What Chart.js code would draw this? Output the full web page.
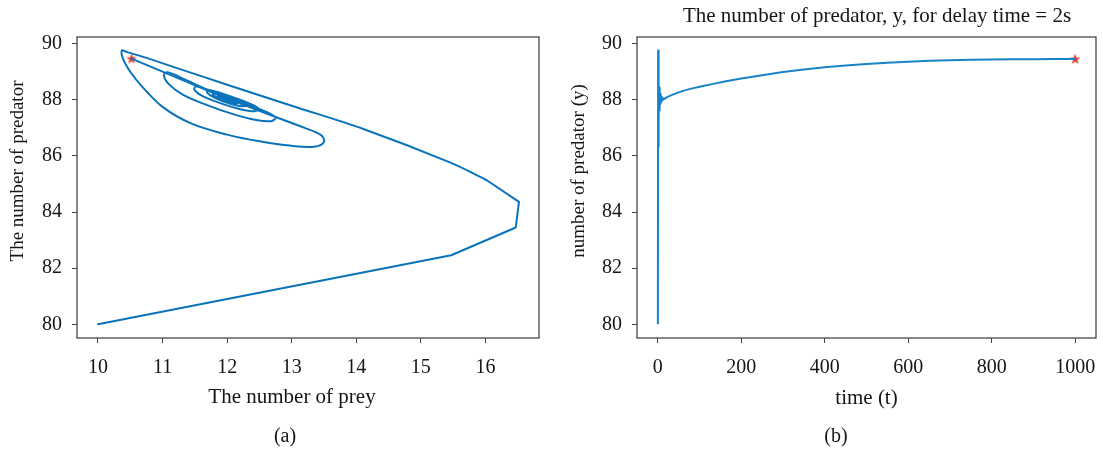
<!DOCTYPE html>
<html>
<head>
<meta charset="utf-8">
<script src="https://cdn.jsdelivr.net/npm/chart.js@4.4.1/dist/chart.umd.min.js"></script>
<style>
  html, body { margin: 0; padding: 0; background: #ffffff; overflow: hidden; }
  #wrap { position: relative; width: 1103px; height: 449px; }
  canvas { position: absolute; top: 0; }
</style>
</head>
<body>
<div id="wrap">
  <canvas id="chartA" width="551" height="449" style="left:0px"></canvas>
  <canvas id="chartB" width="552" height="449" style="left:551px"></canvas>
</div>
<script>
// ---------------- data: panel (a) phase portrait ----------------
const approachPrey      = [10.00, 15.47, 16.47, 16.52, 16.01];
const approachPredator  = [80.00, 82.46, 83.45, 84.36, 85.15];

const spiralPrey = [16.01, 15.45, 14.11, 13.00, 12.00, 11.20, 10.70, 10.45, 10.37, 10.39, 10.50, 10.68, 11.00, 11.45, 12.00, 12.50, 13.00, 13.35, 13.50, 13.45, 13.20,
  12.60, 11.90, 11.35, 11.08, 11.02, 11.10, 11.32, 11.68, 12.08, 12.45, 12.68, 12.75, 12.58,
  12.18, 11.78, 11.53, 11.49, 11.60, 11.86, 12.18, 12.43, 12.48, 12.27,
  11.94, 11.71, 11.69, 11.81, 12.05, 12.28, 12.27, 12.03, 11.80, 11.78, 11.92, 12.14, 12.18, 12.01, 11.86, 11.89, 12.04, 12.10, 12.02,
  11.90, 11.88, 12.00, 12.12, 12.08, 11.95, 11.95, 12.05, 12.03];
const spiralPredator = [85.15, 85.77, 86.96, 87.79, 88.54, 89.15, 89.53, 89.70, 89.76, 89.45, 89.00, 88.48, 87.75, 87.15, 86.76, 86.52, 86.36, 86.33, 86.50, 86.75, 87.00,
  87.52, 88.15, 88.72, 88.98, 88.88, 88.55, 88.18, 87.82, 87.50, 87.28, 87.24, 87.37, 87.60,
  87.96, 88.30, 88.48, 88.38, 88.16, 87.91, 87.68, 87.59, 87.70, 87.94,
  88.21, 88.35, 88.26, 88.07, 87.86, 87.77, 87.88, 88.11, 88.27, 88.18, 88.02, 87.88, 87.93, 88.10, 88.17, 88.08, 87.97, 87.95, 88.03,
  88.12, 88.07, 87.97, 87.93, 87.99, 88.08, 88.03, 87.98, 88.01];

const driftPrey     = [12.03, 10.52];
const driftPredator = [88.01, 89.47];

const endPrey     = [10.52];
const endPredator = [89.47];

const preyTicks      = [10, 11, 12, 13, 14, 15, 16];
const predatorTicks  = [80, 82, 84, 86, 88, 90];

// ---------------- data: panel (b) time series ----------------
const timeValues = [0, 0.6, 1.2, 1.8, 2.4, 3.0, 3.6, 4.2, 4.8, 5.4, 6.0, 6.6, 7.2, 7.8, 8.4, 9.0, 9.6, 10.2, 10.8, 11.4, 12, 13, 14, 15.5, 17, 21,
  30, 45, 60, 80, 100, 130, 160, 200, 250, 300, 350, 400, 450, 500, 550, 600, 650, 700, 750, 800, 850, 900, 950, 1000];
const predatorValues = [80.00, 89.76, 86.33, 88.97, 87.27, 88.45, 87.62, 88.30, 87.78, 88.22, 87.86, 88.16, 87.90, 88.12, 87.94, 88.09, 87.97, 88.07, 87.99, 88.05, 88.00, 88.03, 88.02, 88.04, 88.05, 88.09,
  88.15, 88.24, 88.32, 88.40, 88.47, 88.56, 88.65, 88.76, 88.88, 88.99, 89.08, 89.16, 89.22, 89.28, 89.32, 89.36, 89.39, 89.41, 89.43, 89.44, 89.45, 89.45, 89.46, 89.46];
const endTime      = [1000];
const endPredatorB = [89.46];
const timeTicks    = [0, 200, 400, 600, 800, 1000];

// ---------------- helpers ----------------
const zip = (xs, ys) => xs.map((x, i) => ({ x: x, y: ys[i] }));
const SERIF = "'Liberation Serif', 'DejaVu Serif', serif";
const TEXT = '#151515';
const BLUE_A = '#0a74bb';
const BLUE_B = '#1784c8';

const starImg = (() => {
  const c = document.createElement('canvas');
  c.width = 12; c.height = 12;
  const g = c.getContext('2d');
  g.fillStyle = '#e8402f';
  g.beginPath();
  for (let i = 0; i < 10; i++) {
    const r = i % 2 === 0 ? 5.6 : 2.3;
    const a = -Math.PI / 2 + i * Math.PI / 5;
    const px = 6 + r * Math.cos(a), py = 6.4 + r * Math.sin(a);
    if (i === 0) g.moveTo(px, py); else g.lineTo(px, py);
  }
  g.closePath();
  g.fill();
  return c;
})();

const framePlugin = {
  id: 'frame',
  afterDraw(chart) {
    const { ctx, chartArea: a } = chart;
    ctx.save();
    ctx.strokeStyle = '#3a3a3a';
    ctx.lineWidth = 1.2;
    ctx.strokeRect(a.left, a.top, a.right - a.left, a.bottom - a.top);
    ctx.restore();
  }
};

// draws the figure texts (titles, captions) at their places in the canvas
const labelsPlugin = {
  id: 'labels',
  afterDraw(chart, args, opts) {
    const ctx = chart.ctx;
    (opts.items || []).forEach(it => {
      ctx.save();
      ctx.font = it.size + 'px ' + SERIF;
      ctx.fillStyle = TEXT;
      ctx.textAlign = 'center';
      ctx.textBaseline = 'middle';
      ctx.translate(it.x, it.y);
      if (it.rotate) ctx.rotate(it.rotate * Math.PI / 180);
      ctx.fillText(it.text, 0, 0);
      ctx.restore();
    });
  }
};

function makeAxis(min, max, tickValues, opts) {
  return {
    type: 'linear',
    min: min,
    max: max,
    afterBuildTicks: s => { s.ticks = tickValues.map(v => ({ value: v })); },
    afterFit: s => {
      if (opts.width) s.width = opts.width;
      if (opts.height) s.height = opts.height;
      s.paddingLeft = 0; s.paddingRight = 0; s.paddingTop = 0; s.paddingBottom = 0;
    },
    border: { display: false },
    grid: { display: true, drawOnChartArea: false, drawTicks: true, tickLength: 5, color: '#444', lineWidth: 1 },
    ticks: {
      color: TEXT,
      font: { family: SERIF, size: 20 },
      padding: opts.tickPad,
      maxRotation: 0,
      autoSkip: false,
      callback: v => String(v)
    },
    title: opts.title ? {
      display: true,
      text: opts.title,
      color: TEXT,
      font: { family: SERIF, size: 21 },
      padding: { top: 0, bottom: 8 }
    } : { display: false }
  };
}

const common = {
  responsive: false,
  animation: false,
  devicePixelRatio: 1,
  events: []
};

// ---------------- chart (a) ----------------
new Chart(document.getElementById('chartA'), {
  type: 'scatter',
  data: {
    datasets: [
      { data: zip(approachPrey, approachPredator), showLine: true, borderColor: BLUE_A, borderWidth: 2, pointRadius: 0, tension: 0, borderJoinStyle: 'round', borderCapStyle: 'round' },
      { data: zip(spiralPrey, spiralPredator), showLine: true, borderColor: BLUE_A, borderWidth: 2, pointRadius: 0, tension: 0.35, borderJoinStyle: 'round', borderCapStyle: 'round' },
      { data: zip(driftPrey, driftPredator), showLine: true, borderColor: BLUE_A, borderWidth: 2, pointRadius: 0, tension: 0, borderCapStyle: 'round' },
      { data: zip(endPrey, endPredator), showLine: false, pointStyle: starImg, pointRadius: 6 }
    ]
  },
  options: Object.assign({}, common, {
    layout: { padding: { left: 0, right: 12, top: 37, bottom: 30 } },
    plugins: {
      legend: { display: false },
      tooltip: { enabled: false },
      labels: { items: [
        { text: 'The number of prey', x: 292, y: 397, size: 21 },
        { text: '(a)', x: 285, y: 437, size: 20 },
        { text: 'The number of predator', x: 18, y: 171, size: 19, rotate: -90 }
      ] }
    },
    scales: {
      x: makeAxis(9.675, 16.83, preyTicks, { height: 81, tickPad: 13 }),
      y: makeAxis(79.51, 90.24, predatorTicks, { width: 77, tickPad: 10 })
    }
  }),
  plugins: [framePlugin, labelsPlugin]
});

// ---------------- chart (b) ----------------
new Chart(document.getElementById('chartB'), {
  type: 'scatter',
  data: {
    datasets: [
      { data: zip(timeValues, predatorValues), showLine: true, borderColor: BLUE_B, borderWidth: 2, pointRadius: 0, tension: 0, borderJoinStyle: 'round' },
      { data: zip(endTime, endPredatorB), showLine: false, pointStyle: starImg, pointRadius: 6 }
    ]
  },
  options: Object.assign({}, common, {
    layout: { padding: { left: 0, right: 2, top: 37, bottom: 30 } },
    plugins: {
      legend: { display: false },
      tooltip: { enabled: false },
      labels: { items: [
        { text: 'The number of predator, y, for delay time = 2s', x: 326, y: 16.5, size: 21 },
        { text: '(b)', x: 285, y: 437, size: 20 },
        { text: 'number of predator (y)', x: 28, y: 171, size: 19, rotate: -90 }
      ] }
    },
    scales: {
      x: makeAxis(-50, 1050, timeTicks, { height: 81, tickPad: 13, title: 'time (t)' }),
      y: makeAxis(79.51, 90.24, predatorTicks, { width: 86, tickPad: 10 })
    }
  }),
  plugins: [framePlugin, labelsPlugin]
});
</script>
</body>
</html>
